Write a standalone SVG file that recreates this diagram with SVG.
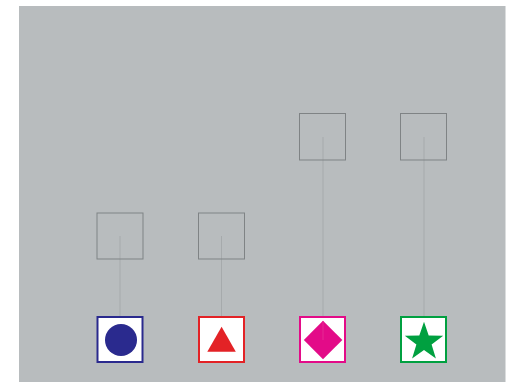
<svg xmlns="http://www.w3.org/2000/svg" width="512" height="382" viewBox="0 0 512 382">
<style>
.up{fill:none;stroke:#7f8385;stroke-width:1}
.conn{stroke:#a6aaac;stroke-width:1;fill:none}
.btm{fill:#ffffff;stroke-width:2}
</style>
<rect x="0" y="0" width="512" height="382" fill="#ffffff"/>
<rect x="19" y="6" width="486.5" height="376" fill="#b8bcbe"/>
<g id="connectors">
<line class="conn" x1="120" y1="236" x2="120" y2="316"/>
<line class="conn" x1="221.5" y1="236" x2="221.5" y2="316"/>
<line class="conn" x1="323" y1="137" x2="323" y2="316"/>
<line class="conn" x1="424" y1="137" x2="424" y2="316"/>
</g>
<g id="u1"><rect class="up" x="97" y="213" width="46" height="46"/></g>
<g id="u2"><rect class="up" x="198.5" y="213" width="46" height="46"/></g>
<g id="u3"><rect class="up" x="299.5" y="113.5" width="46" height="46.5"/></g>
<g id="u4"><rect class="up" x="400.5" y="113.5" width="46" height="46.5"/></g>
<g id="circle">
<rect class="btm" x="97.5" y="317" width="45" height="45" stroke="#2a2a8e"/>
<circle cx="121" cy="340" r="16" fill="#2a2a8e"/>
</g>
<g id="triangle">
<rect class="btm" x="199" y="317" width="45" height="45" stroke="#e32226"/>
<polygon points="221.6,326.7 235.8,351.7 207.3,351.7" fill="#e32226"/>
</g>
<g id="diamond">
<rect class="btm" x="300" y="317" width="45" height="45" stroke="#e30b88"/>
<polygon points="323,320.7 342.3,340 323,359.3 303.8,340" fill="#e30b88"/>
<line x1="323" y1="321" x2="323" y2="340" stroke="#e52a93" stroke-width="1"/>
</g>
<g id="star">
<rect class="btm" x="401" y="317" width="45" height="45" stroke="#00a040"/>
<polygon points="424,321.8 428.7,335.6 443.2,335.8 431.6,344.6 435.9,358.4 424,350.1 412.1,358.4 416.4,344.6 404.8,335.8 419.3,335.6" fill="#00a040"/>
</g>
</svg>
